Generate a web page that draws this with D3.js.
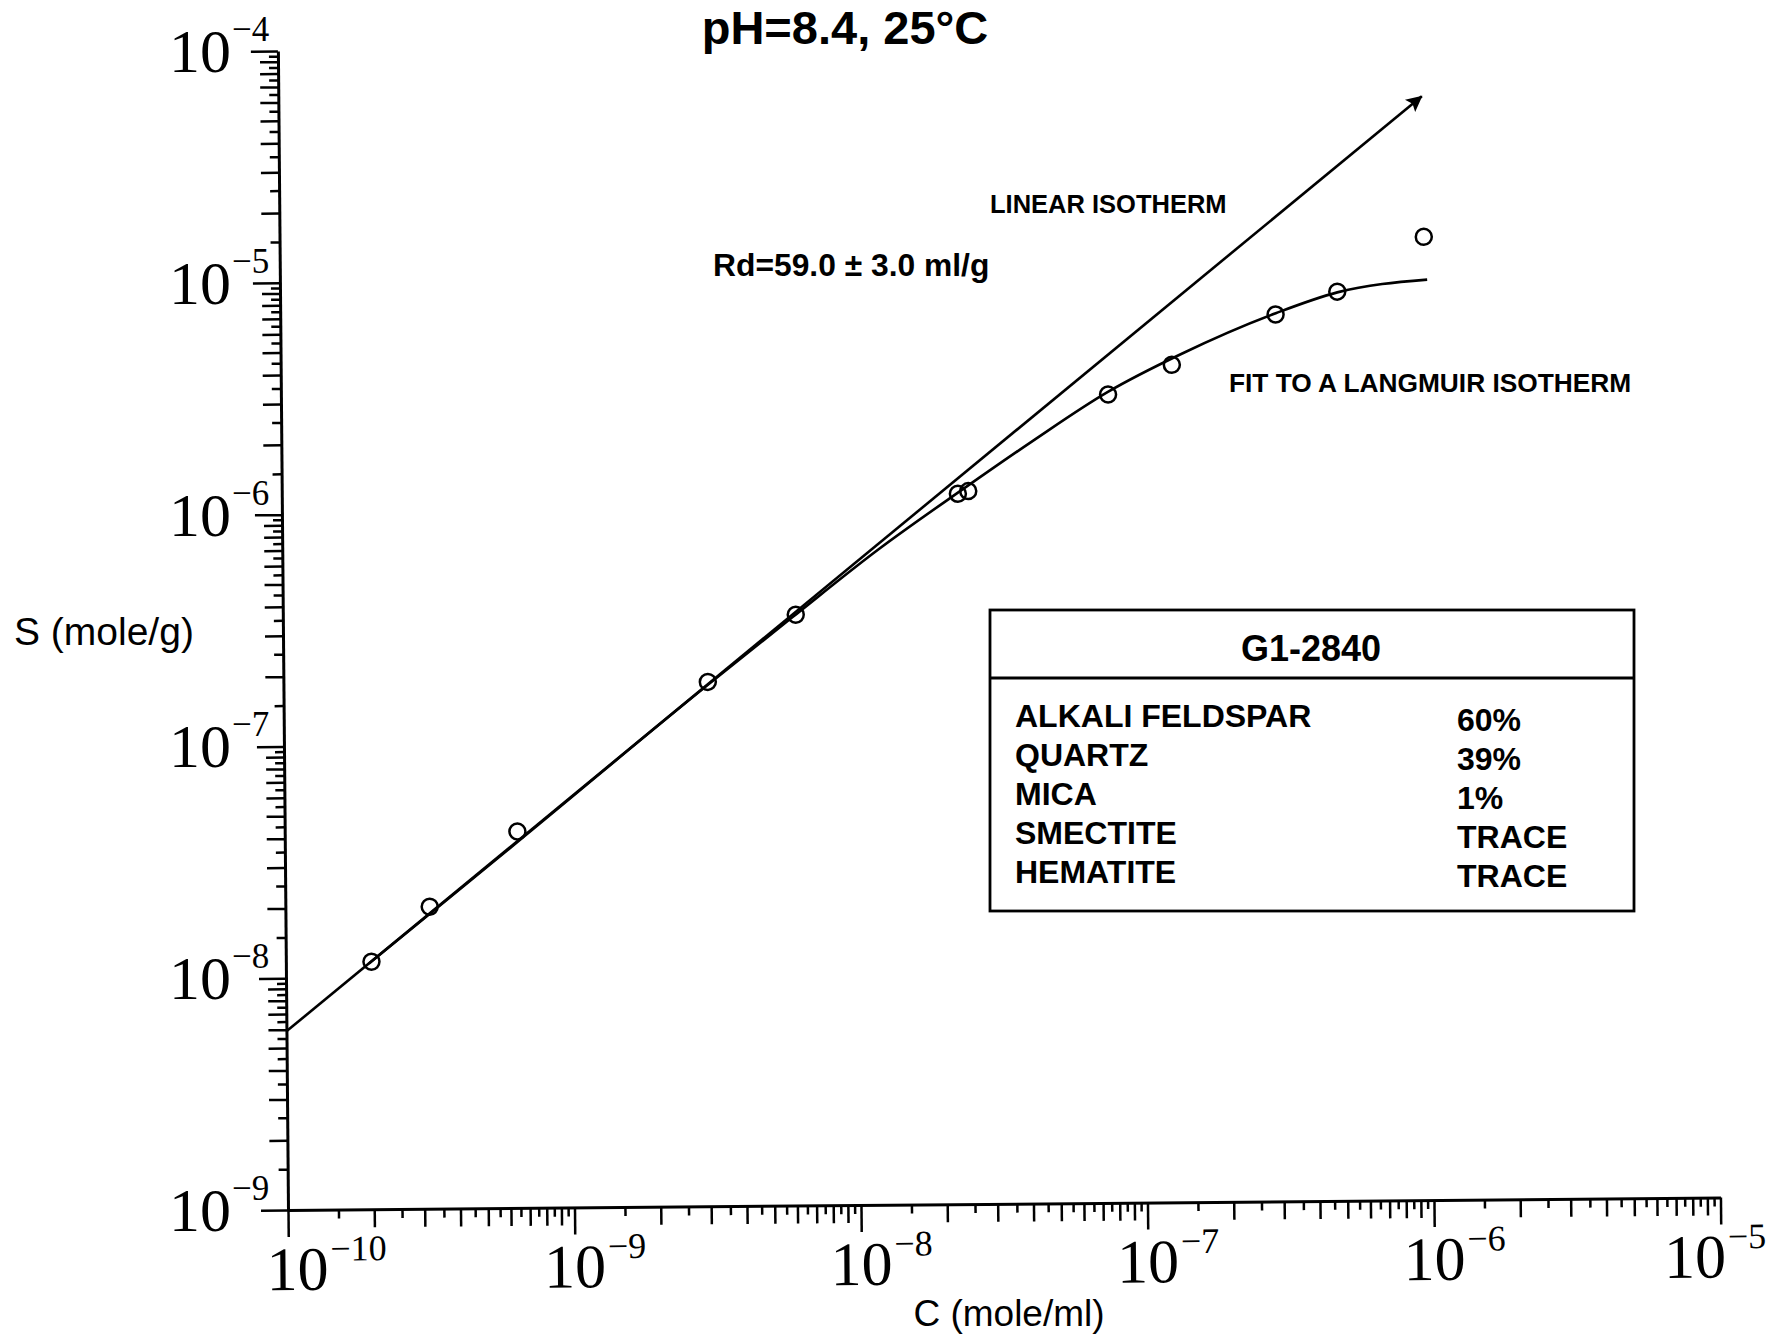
<!DOCTYPE html>
<html>
<head>
<meta charset="utf-8">
<script src="https://cdn.jsdelivr.net/npm/d3@7"></script>
<style>
  html, body { margin: 0; padding: 0; background: #fff; }
  svg { display: block; }
  .sans { font-family: "Liberation Sans", Arial, Helvetica, sans-serif; }
  .serif { font-family: "Liberation Serif", "Times New Roman", serif; }
</style>
</head>
<body>
<svg id="chart" width="1787" height="1334"></svg>
<script>
// Measured sorption: C = solution concentration (mole/ml), S = sorbed amount (mole/g)
const concentration = [1.99e-10, 3.19e-10, 6.49e-10, 3.03e-9, 6.17e-9, 2.29e-8, 2.49e-8, 7.71e-8, 1.29e-7, 2.98e-7, 4.90e-7, 9.86e-7];
const sorbed        = [1.17e-8, 2.01e-8, 4.21e-8, 1.83e-7, 3.54e-7, 1.16e-6, 1.19e-6, 3.07e-6, 4.10e-6, 6.70e-6, 8.36e-6, 1.43e-5];

// Langmuir fit curve, points along the fitted line
const langmuirC = [1.95e-10, 3.2e-10, 6.5e-10, 3.0e-9, 6.0e-9, 1.2e-8, 2.4e-8, 4.2e-8, 7.7e-8, 1.38e-7, 3.0e-7, 4.9e-7, 1.01e-6];
const langmuirS = [1.15e-8, 1.88e-8, 3.8e-8, 1.76e-7, 3.45e-7, 6.7e-7, 1.22e-6, 1.95e-6, 3.15e-6, 4.54e-6, 6.8e-6, 8.3e-6, 9.35e-6];

// Linear isotherm S = Rd * C (Rd in ml/g), drawn between these concentrations
const rd = 59.0;
const rdError = 3.0;
const linearC = [1e-10, 0.98e-6];

// Decade exponents for the axis labels
const xDecades = [-10, -9, -8, -7, -6, -5];
const yDecades = [-9, -8, -7, -6, -5, -4];

// Sample mineralogy
const sampleId = "G1-2840";
const minerals = ["ALKALI FELDSPAR", "QUARTZ", "MICA", "SMECTITE", "HEMATITE"];
const fractions = ["60%", "39%", "1%", "TRACE", "TRACE"];

const svg = d3.select("#chart");

const x = d3.scaleLog().domain([1e-10, 1e-5]).range([288, 1720.5]);
const y = d3.scaleLog().domain([1e-9, 1e-4]).range([1210, 51]);
const x0 = x.range()[0], y0 = y.range()[0];

// Plot frame is set slightly off level, as on the original sheet
const plot = svg.append("g").attr("transform", `rotate(-0.5, ${x0}, ${y0})`);

// Ticks at every half unit of each decade; decades longest, whole units medium
function logTicks(lo, hi) {
  const t = [];
  for (let e = lo; e < hi; e++) {
    for (let m = 1; m < 10; m += 0.5) t.push(m * Math.pow(10, e));
  }
  t.push(Math.pow(10, hi));
  return t;
}
function tickLen(v) {
  const e = Math.floor(Math.log10(v) + 1e-9);
  const m = v / Math.pow(10, e);
  if (Math.abs(m - 1) < 1e-6 || Math.abs(m - 10) < 1e-6) return 27;
  return Math.abs(m - Math.round(m)) < 1e-6 ? 18 : 9;
}

// ---- Axes ----
const xAxis = d3.axisBottom(x).tickValues(logTicks(-10, -5)).tickFormat("").tickSize(18).tickSizeOuter(0);
const gx = plot.append("g").attr("transform", `translate(0,${y0})`).call(xAxis);
gx.selectAll(".tick line").attr("y2", d => tickLen(d)).attr("stroke-width", 2.5);
gx.select(".domain").attr("stroke-width", 3);

const yAxis = d3.axisLeft(y).tickValues(logTicks(-9, -4)).tickFormat("").tickSize(18).tickSizeOuter(0);
const gy = plot.append("g").attr("transform", `translate(${x0},0)`).call(yAxis);
gy.selectAll(".tick line").attr("x2", d => -tickLen(d)).attr("stroke-width", 2.5);
gy.select(".domain").attr("stroke-width", 3);

// Decade labels: "10" with a superscript exponent
const xShift = { "-10": 9, "-5": -26 };
xDecades.forEach(e => {
  const t = plot.append("text").attr("class", "serif")
    .attr("x", x(Math.pow(10, e)) - 31 + (xShift[e] || 0)).attr("y", y0 + 80);
  t.append("tspan").attr("font-size", 62).text("10");
  t.append("tspan").attr("font-size", 36).attr("dx", 2).attr("dy", -29).text("\u2212" + Math.abs(e));
});
yDecades.forEach(e => {
  const t = svg.append("text").attr("class", "serif")
    .attr("x", x0 - 119).attr("y", y(Math.pow(10, e)) + 21);
  t.append("tspan").attr("font-size", 62).text("10");
  t.append("tspan").attr("font-size", 35).attr("dx", 1).attr("dy", -31).text("\u2212" + Math.abs(e));
});

// ---- Linear isotherm with arrow ----
const defs = svg.append("defs");
defs.append("marker").attr("id", "arrow").attr("viewBox", "0 0 10 10")
  .attr("refX", 9.5).attr("refY", 5).attr("markerWidth", 27).attr("markerHeight", 16)
  .attr("markerUnits", "userSpaceOnUse").attr("orient", "auto")
  .append("path").attr("d", "M0,0 L10,5 L0,10 L2,5 Z").attr("fill", "#000");

const line = d3.line().x(d => x(d[0])).y(d => y(d[1]));

plot.append("path")
  .datum(linearC.map(c => [c, rd * c]))
  .attr("d", line).attr("fill", "none").attr("stroke", "#000").attr("stroke-width", 2.6)
  .attr("marker-end", "url(#arrow)");

// ---- Langmuir fit ----
plot.append("path")
  .datum(langmuirC.map((c, i) => [c, langmuirS[i]]))
  .attr("d", line.curve(d3.curveMonotoneX)).attr("fill", "none")
  .attr("stroke", "#000").attr("stroke-width", 2.6);

// ---- Data points ----
plot.append("g").selectAll("circle")
  .data(concentration.map((c, i) => [c, sorbed[i]]))
  .join("circle")
  .attr("cx", d => x(d[0])).attr("cy", d => y(d[1])).attr("r", 8)
  .attr("fill", "none").attr("stroke", "#000").attr("stroke-width", 2.5);

// ---- Axis titles ----
svg.append("text").attr("class", "sans").attr("x", 14).attr("y", 645)
  .attr("font-size", 39).text("S (mole/g)");
svg.append("text").attr("class", "sans").attr("x", 1009).attr("y", 1326)
  .attr("text-anchor", "middle").attr("font-size", 37).text("C (mole/ml)");

// ---- Title ----
svg.append("text").attr("class", "sans").attr("x", 845).attr("y", 44)
  .attr("text-anchor", "middle").attr("font-size", 47).attr("font-weight", "bold")
  .text("pH=8.4, 25\u00B0C");

// ---- Annotations ----
svg.append("text").attr("class", "sans").attr("x", 990).attr("y", 213)
  .attr("font-size", 25.5).attr("font-weight", "bold").text("LINEAR ISOTHERM");
svg.append("text").attr("class", "sans").attr("x", 713).attr("y", 276)
  .attr("font-size", 31.8).attr("font-weight", "bold")
  .text(`Rd=${rd.toFixed(1)} \u00B1 ${rdError.toFixed(1)} ml/g`);
svg.append("text").attr("class", "sans").attr("x", 1229).attr("y", 392)
  .attr("font-size", 26.3).attr("font-weight", "bold").text("FIT TO A LANGMUIR ISOTHERM");

// ---- Mineralogy box ----
const box = { x0: 990, x1: 1634, y0: 610, yh: 678, y1: 911 };
const gb = svg.append("g").attr("class", "sans");
gb.append("rect").attr("x", box.x0).attr("y", box.y0)
  .attr("width", box.x1 - box.x0).attr("height", box.y1 - box.y0)
  .attr("fill", "#fff").attr("stroke", "#000").attr("stroke-width", 2.8);
gb.append("line").attr("x1", box.x0).attr("x2", box.x1).attr("y1", box.yh).attr("y2", box.yh)
  .attr("stroke", "#000").attr("stroke-width", 2.8);
gb.append("text").attr("x", (box.x0 + box.x1) / 2 - 1).attr("y", 661)
  .attr("text-anchor", "middle").attr("font-size", 36).attr("font-weight", "bold").text(sampleId);

const rowY = d3.scalePoint().domain(minerals).range([727, 883]);
minerals.forEach((m, i) => {
  gb.append("text").attr("x", 1015).attr("y", rowY(m))
    .attr("font-size", 32).attr("font-weight", "bold").text(m);
  gb.append("text").attr("x", 1457).attr("y", rowY(m) + 4)
    .attr("font-size", 32).attr("font-weight", "bold").text(fractions[i]);
});
</script>
</body>
</html>
